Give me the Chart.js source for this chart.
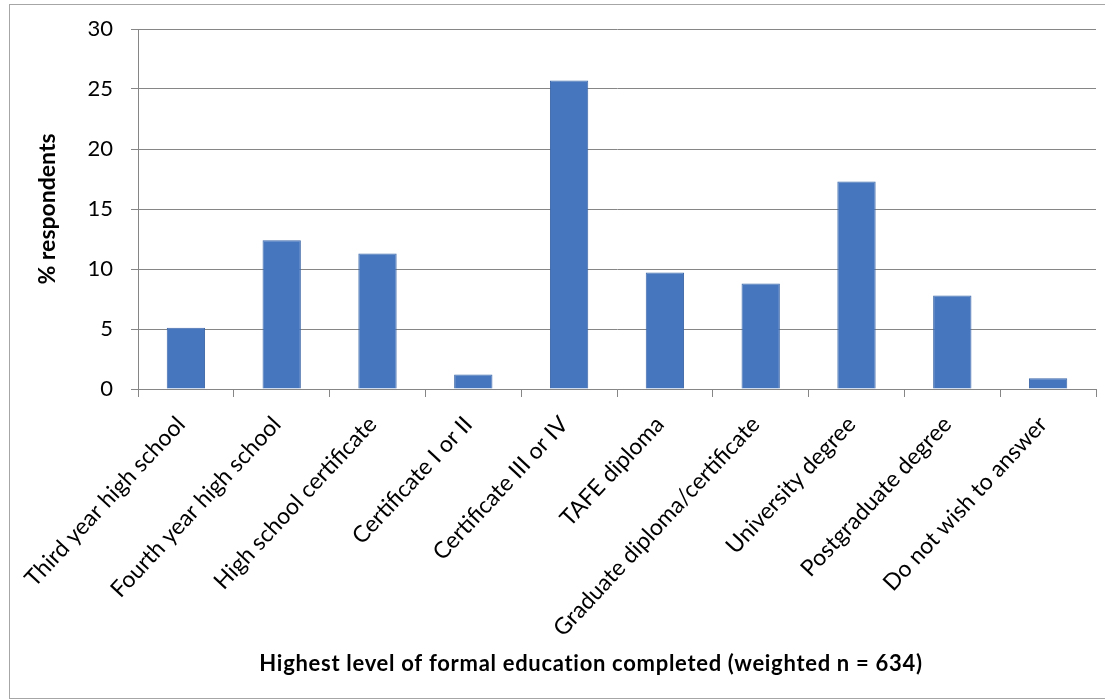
<!DOCTYPE html>
<html>
<head>
<meta charset="utf-8">
<title>Highest level of formal education completed</title>
<script src="https://cdn.jsdelivr.net/npm/chart.js@4"></script>
<style>
  html, body { margin: 0; padding: 0; background: #ffffff; }
  #wrap { width: 1105px; height: 699px; position: relative; }
  canvas { display: block; }
</style>
</head>
<body>
<div id="wrap"><canvas id="chart" width="1105" height="699"></canvas></div>
<script>
// Education levels (x axis categories)
const categories = [
  "Third year high school",
  "Fourth year high school",
  "High school certificate",
  "Certificate I or II",
  "Certificate III or IV",
  "TAFE diploma",
  "Graduate diploma/certificate",
  "University degree",
  "Postgraduate degree",
  "Do not wish to answer"
];

// Share of respondents, %
const respondentsPct = [5.1, 12.4, 11.3, 1.2, 25.7, 9.7, 8.8, 17.3, 7.8, 0.9];

// Y axis ticks
const yTicks = [0, 5, 10, 15, 20, 25, 30];

const yTitle = "% respondents";
const xTitle = "Highest level of formal education completed (weighted n = 634)";

const FONT = "Lato, 'Open Sans', 'Liberation Sans', sans-serif";

// Frame around the whole chart and the x-axis title
const framePlugin = {
  id: "frame",
  beforeDraw(chart) {
    const ctx = chart.ctx;
    ctx.save();
    ctx.fillStyle = "#ffffff";
    ctx.fillRect(0, 0, chart.width, chart.height);
    ctx.strokeStyle = "#a6a6a6";
    ctx.lineWidth = 1;
    ctx.strokeRect(9.5, 4.5, chart.width, chart.height - 5);
    ctx.restore();
  },
  afterDraw(chart) {
    const ctx = chart.ctx;
    ctx.save();
    ctx.fillStyle = "#000000";
    ctx.font = "bold 22px " + FONT;
    if ("letterSpacing" in ctx) ctx.letterSpacing = "0.7px";
    ctx.textAlign = "center";
    ctx.textBaseline = "middle";
    ctx.fillText(xTitle, 591, 664);
    ctx.restore();
  }
};

new Chart(document.getElementById("chart"), {
  type: "bar",
  data: {
    labels: categories,
    datasets: [{
      data: respondentsPct,
      backgroundColor: "#4676be",
      borderColor: "#3d68a8",
      borderWidth: 1,
      categoryPercentage: 1.0,
      barPercentage: 0.4
    }]
  },
  options: {
    responsive: false,
    animation: false,
    devicePixelRatio: 1,
    layout: { padding: { top: 29, right: 9, left: 0, bottom: 0 } },
    plugins: {
      legend: { display: false },
      tooltip: { enabled: false }
    },
    scales: {
      x: {
        grid: {
          offset: true,
          drawOnChartArea: false,
          drawTicks: true,
          tickLength: 8,
          color: "#868686"
        },
        border: { display: true, color: "#868686", width: 1 },
        ticks: {
          autoSkip: false,
          minRotation: 47,
          maxRotation: 47,
          padding: 14,
          labelOffset: -5,
          color: "#000000",
          font: { family: FONT, size: 23 }
        },
        afterFit(scale) {
          scale.height = 310;
          scale.paddingLeft = 0;
          scale.paddingRight = 0;
        }
      },
      y: {
        min: 0,
        max: 30,
        afterBuildTicks(scale) {
          scale.ticks = yTicks.map(v => ({ value: v }));
        },
        grid: {
          color: "#868686",
          drawTicks: true,
          tickLength: 7
        },
        border: { display: true, color: "#868686", width: 1 },
        ticks: {
          padding: 18,
          color: "#000000",
          font: { family: FONT, size: 22 }
        },
        title: {
          display: true,
          text: yTitle,
          color: "#000000",
          font: { family: FONT, size: 23, weight: "bold" },
          padding: { top: 34, bottom: 0 }
        },
        afterFit(scale) {
          scale.width = 138;
          scale.paddingTop = 0;
          scale.paddingBottom = 0;
        }
      }
    }
  },
  plugins: [framePlugin]
});
</script>
</body>
</html>
